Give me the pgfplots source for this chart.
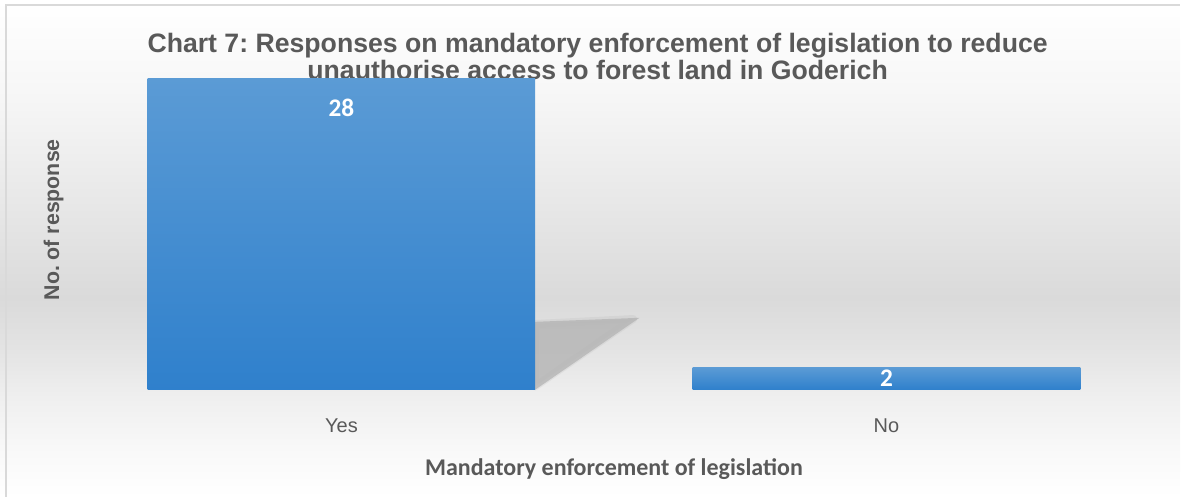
\documentclass[border=0pt]{standalone}
\usepackage{fontspec}
\usepackage{pgfplots}
\pgfplotsset{compat=1.18}
\setmainfont{Carlito}
\newfontfamily\arialfont{Liberation Sans}
\frenchspacing
\definecolor{txt}{HTML}{595959}
\definecolor{bartop}{HTML}{5B9BD5}
\definecolor{barbot}{HTML}{2F80CC}
\definecolor{bgA}{HTML}{FFFFFF}
\definecolor{bgB}{HTML}{F6F6F6}
\definecolor{bgC}{HTML}{E4E4E4}
\definecolor{bgD}{HTML}{DADADA}
\definecolor{bgE}{HTML}{E3E3E3}
\definecolor{bgF}{HTML}{EFEFEF}
\definecolor{bgG}{HTML}{F8F8F8}
\definecolor{border}{HTML}{D9D9D9}
\definecolor{shadow}{HTML}{B3B3B3}
\pgfdeclareverticalshading{bgshade}{100bp}{color(0bp)=(bgA); color(25bp)=(bgA); color(30bp)=(bgG); color(35bp)=(bgF); color(40bp)=(bgE); color(45bp)=(bgD); color(52bp)=(bgC); color(65bp)=(bgB); color(75bp)=(bgA); color(100bp)=(bgA)}
\begin{document}
\begin{tikzpicture}
\begin{axis}[
  scale only axis,
  width=818.25pt, height=250.5pt,
  xmin=-0.5, xmax=1.5, ymin=0, ymax=30,
  clip=false,
  axis on top,
  axis line style={draw=none},
  ytick=\empty,
  xtick={0,1},
  xticklabels={Yes,No},
  major tick length=0pt,
  xticklabel style={font=\arialfont\fontsize{15}{18}\selectfont, text=txt, anchor=center, yshift=-27pt},
  xlabel={Mandatory enforcement of legislation},
  xlabel style={at={(axis description cs:0.5,-0.2395)}, anchor=center, font=\fontsize{18}{21}\selectfont\bfseries, text=txt},
  ylabel={No. of response},
  ylabel style={at={(axis description cs:-0.0140,0.509)}, anchor=center, font=\arialfont\fontsize{16}{19}\selectfont\bfseries, text=txt},
]
% background
\fill[shading=bgshade] (rel axis cs:-0.06324,-0.32036) rectangle (rel axis cs:1.01925,1.16766);
\draw[border, line width=1.5pt] (rel axis cs:-0.05775,-0.32036) -- (rel axis cs:-0.05775,1.15269) -- (rel axis cs:1.01925,1.15269);
% title (drawn beneath the bars, as in the reference)
\node[anchor=center, align=center, font=\arialfont\fontsize{20}{20.25}\selectfont\bfseries, text=txt]
  at (rel axis cs:0.485,0.998) {Chart 7: Responses on mandatory enforcement of legislation to reduce\\unauthorise access to forest land in Goderich};
% shadow of the Yes bar
\fill[shadow, opacity=0.2, draw=shadow, line width=6pt, line join=round] (axis cs:0.3555,0.3) -- (axis cs:0.3555,5.9) -- (axis cs:0.535,6.35) -- cycle;
\fill[shadow, opacity=0.75] (axis cs:0.3555,0) -- (axis cs:0.3555,6.1) -- (axis cs:0.5467,6.46) -- cycle;
% bars (one plot each so that each bar gets its own gradient)
\addplot[ybar, bar shift=0pt, bar width=0.711, draw=none, top color=bartop, bottom color=barbot] coordinates {(0,28)};
\addplot[ybar, bar shift=0pt, bar width=0.711, draw=none, top color=bartop, bottom color=barbot] coordinates {(1,2)};
% data labels
\addplot[draw=none, mark=none, nodes near coords, point meta=explicit symbolic,
  nodes near coords style={anchor=center, text=white, font=\fontsize{19}{22}\selectfont\bfseries}]
  coordinates {(0,25.33) [28] (1,0.99) [2]};
\end{axis}
\end{tikzpicture}
\end{document}
